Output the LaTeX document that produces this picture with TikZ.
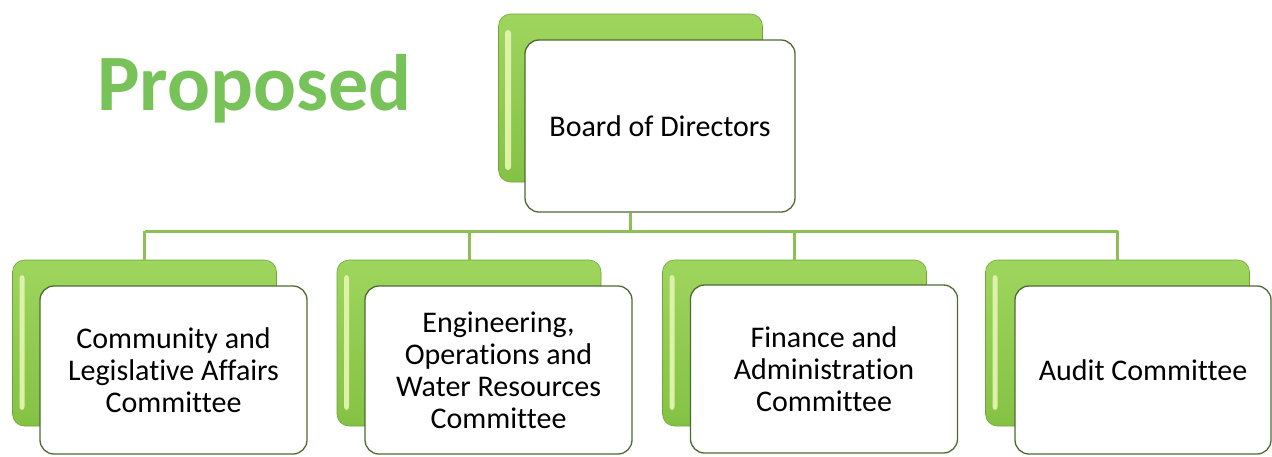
\documentclass[tikz,border=0pt]{standalone}
\usepackage{fontspec}
\setmainfont{Carlito}[Ligatures={NoCommon}]
\definecolor{gtop}{HTML}{9ED55E}
\definecolor{gbot}{HTML}{84C244}
\definecolor{ghi}{HTML}{DDF2A8}
\definecolor{conncol}{HTML}{8CBF55}
\definecolor{edgecol}{HTML}{4E6A33}
\definecolor{propcol}{HTML}{78C25A}
\tikzset{
  greenbox/.style={draw=gbot!85!black, line width=0.6pt, rounded corners=12pt, top color=gtop, bottom color=gbot, minimum width=264pt, minimum height=166pt, inner sep=0pt},
  whitebox/.style={draw=edgecol, line width=1.3pt, rounded corners=14pt, fill=white, minimum width=267pt, minimum height=168pt, inner sep=0pt, align=center, font=\fontsize{30}{32}\selectfont},
  conn/.style={draw=conncol, line width=3pt},
  hilite/.style={fill=ghi, rounded corners=3pt, draw=none}
}
\begin{document}
\begin{tikzpicture}[x=1pt,y=-1pt]
\useasboundingbox (0,0) rectangle (1272,456);
% title
\node[anchor=base west, inner sep=0pt, text=propcol, font=\fontsize{80}{90}\selectfont\bfseries] (title) at (97,110) {Proposed};
% board
\node[greenbox, minimum height=168pt] (g0) at (630.5,98) {};
\fill[hilite] (505,30) rectangle (511,170);
\node[whitebox, minimum width=270pt, minimum height=172pt] (b0) at (660,126) {Board of Directors};
% children
\foreach \i/\gx in {1/144.5, 2/469, 3/794.5, 4/1117.5}{
  \node[greenbox] (g\i) at (\gx,343) {};
  \fill[hilite] (\gx-125,275) rectangle (\gx-120,410);
}
\node[whitebox] (c1) at (173.5,370) {Community and\\Legislative Affairs\\Committee};
\node[whitebox] (c2) at (498.5,370) {Engineering,\\Operations and\\Water Resources\\Committee};
\node[whitebox] (c3) at (824,369) {Finance and\\Administration\\Committee};
\node[whitebox, minimum width=256pt] (c4) at (1143,370) {Audit Committee};
% connectors
\coordinate (bus) at (0,231);
\draw[conn] (g0.center |- b0.south) -- (g0.center |- bus);
\draw[conn] (g1.center |- bus) -- (g4.center |- bus);
\foreach \i in {1,2,3,4}{
  \draw[conn] (g\i.center |- bus) -- (g\i.north);
}
\end{tikzpicture}
\end{document}
